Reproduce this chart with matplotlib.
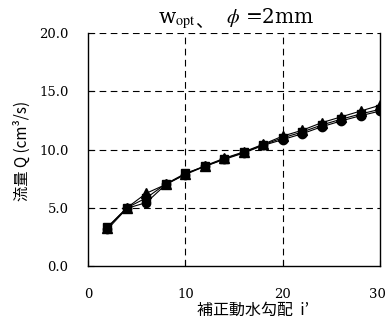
import matplotlib
matplotlib.use("Agg")
import matplotlib.pyplot as plt
from matplotlib.transforms import ScaledTranslation

# hydraulic gradient and discharge for three runs
gradient = [2, 4, 6, 8, 10, 12, 14, 16, 18, 20, 22, 24, 26, 28, 30]
q_triangle = [3.30, 5.00, 6.25, 7.00, 7.90, 8.60, 9.25, 9.80, 10.45, 11.15, 11.65, 12.30, 12.80, 13.30, 13.80]
q_square = [3.35, 5.00, 5.85, 7.05, 7.95, 8.55, 9.20, 9.75, 10.40, 11.00, 11.50, 12.10, 12.60, 13.05, 13.45]
q_circle = [3.15, 4.95, 5.45, 7.00, 7.85, 8.55, 9.15, 9.70, 10.35, 10.85, 11.35, 11.95, 12.45, 12.90, 13.30]

x_ticks = [0, 10, 20, 30]
y_ticks = [0.0, 5.0, 10.0, 15.0, 20.0]

serif = ["DejaVu Serif", "Noto Sans CJK JP"]
cjk = ["Noto Sans CJK JP", "DejaVu Serif"]
plt.rcParams["font.family"] = serif
plt.rcParams["mathtext.fontset"] = "stix"

fig = plt.figure(figsize=(3.86, 3.26), dpi=100)
ax = fig.add_axes([0.228, 0.184, 0.7565, 0.7148])

ax.plot(gradient, q_circle, color="black", lw=0.8, marker="o", ms=6, zorder=3)
ax.plot(gradient, q_square, color="black", lw=0.8, marker="s", ms=5.5, zorder=3)
ax.plot(gradient, q_triangle, color="black", lw=0.8, marker="^", ms=6.5, zorder=3)

ax.set_xlim(0, 30)
ax.set_ylim(0, 20)
ax.set_xticks(x_ticks)
ax.set_yticks(y_ticks)
ax.set_xticklabels([str(v) for v in x_ticks], fontsize=9.5)
ax.set_yticklabels([f"{v:.1f}" for v in y_ticks], fontsize=9.5)
ax.tick_params(direction="in", length=4, width=0.8)
ax.tick_params(axis="y", pad=14)
ax.tick_params(axis="x", pad=16)

# keep the last x label inside the canvas edge
last = ax.get_xticklabels()[-1]
last.set_transform(last.get_transform() + ScaledTranslation(-3 / 100, 0, fig.dpi_scale_trans))

for v in [5, 10, 15, 20]:
    ax.axhline(v, color="black", lw=0.8, ls=(0, (6, 4)), zorder=1)
for v in [10, 20]:
    ax.axvline(v, color="black", lw=0.8, ls=(0, (6, 4)), zorder=1)

ax.spines["top"].set_visible(False)
for s in ["left", "right", "bottom"]:
    ax.spines[s].set_linewidth(1.0)

fig.text(0.057, 0.537, "流量 Q (cm³/s)", rotation=90, ha="center", va="center",
         fontsize=11, family=cjk)
fig.text(0.655, 0.048, "補正動水勾配  i’", ha="center", va="center",
         fontsize=11.5, family=cjk)

t1 = fig.text(0.409, 0.928, r"w$_{\mathrm{opt}}$", ha="left", va="baseline",
              fontsize=14.5, family=serif)
ax.annotate("、", xy=(1, 0), xycoords=t1, ha="left", va="bottom",
            fontsize=13, family=cjk, annotation_clip=False)
fig.text(0.586, 0.928, r"$\phi$ =2mm", ha="left", va="baseline", fontsize=14.5,
         family=serif)

fig.savefig("out.png", dpi=100)
